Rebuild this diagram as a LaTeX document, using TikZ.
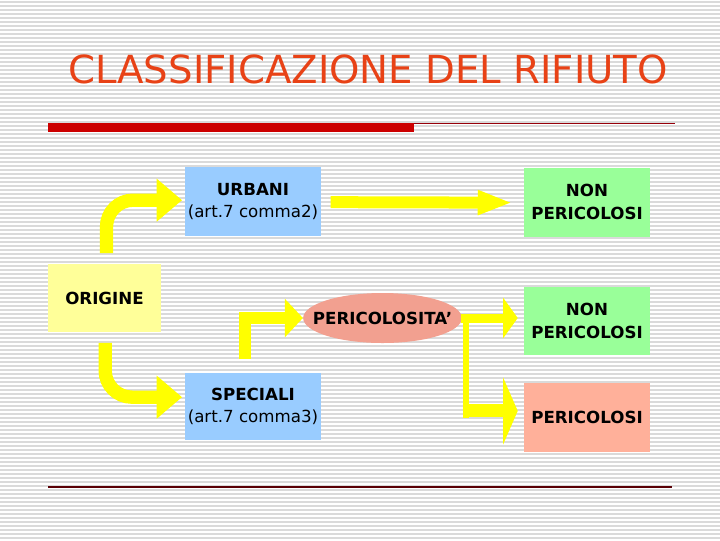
\documentclass[tikz,border=0pt]{standalone}
\usepackage{fontspec}
\setmainfont{DejaVu Sans}
\usetikzlibrary{arrows.meta,shapes.geometric}
\definecolor{titlered}{RGB}{232,66,22}
\definecolor{barred}{RGB}{204,0,0}
\definecolor{linered}{RGB}{150,0,10}
\definecolor{boxblue}{RGB}{153,204,255}
\definecolor{boxyellow}{RGB}{255,255,153}
\definecolor{boxgreen}{RGB}{153,255,153}
\definecolor{boxsalmon}{RGB}{255,176,154}
\definecolor{ellsalmon}{RGB}{242,160,144}
\definecolor{arrowyellow}{RGB}{255,255,0}
\definecolor{stripegray}{RGB}{218,218,218}
\tikzset{
  stripe/.style={draw=stripegray,line width=1.2pt},
  box/.style={rectangle,inner sep=0pt,align=center,font=\fontsize{12.5}{17}\selectfont},
  yarrow/.style={draw=arrowyellow,line width=10pt,
    -{Triangle[length=19pt,width=31pt,fill=arrowyellow]}},
  yline/.style={draw=arrowyellow},
}
\begin{document}
\begin{tikzpicture}[x=0.75pt,y=-0.75pt]
\useasboundingbox (0,0) rectangle (720,540);
\fill[white] (0,0) rectangle (720,540);
\foreach \i in {0,...,134} \draw[stripe] (0,\i*4+2) -- (720,\i*4+2);
% title and rules
\node[text=titlered,font=\fontsize{29}{34}\selectfont] (title) at (368,69) {CLASSIFICAZIONE DEL RIFIUTO};
\fill[barred] (48,123) rectangle (414,132);
\draw[linered,line width=1pt] (414,123.5) -- (675,123.5);
\draw[linered!60!black,line width=1.2pt] (48,487) -- (672,487);
% boxes
\node[box,fill=boxblue,minimum width=102pt,minimum height=51.75pt] (urb) at (253,201.5)
  {\textbf{URBANI}\\(art.7 comma2)};
\node[box,fill=boxyellow,minimum width=84.75pt,minimum height=51pt] (orig) at (104.5,298)
  {\textbf{ORIGINE}};
\node[box,fill=boxblue,minimum width=102pt,minimum height=50.25pt] (spec) at (253,406.5)
  {\textbf{SPECIALI}\\(art.7 comma3)};
\node[ellipse,inner sep=0pt,fill=ellsalmon,minimum width=119pt,minimum height=37.5pt,
  font=\fontsize{12.5}{17}\selectfont] (peri) at (382.5,318)
  {\makebox[0pt]{\textbf{PERICOLOSITA’}}};
\node[box,fill=boxgreen,minimum width=94.5pt,minimum height=51.75pt] (np1) at (587,202)
  {\textbf{NON}\\\textbf{PERICOLOSI}};
\node[box,fill=boxgreen,minimum width=94.5pt,minimum height=51pt] (np2) at (587,321)
  {\textbf{NON}\\\textbf{PERICOLOSI}};
\node[box,fill=boxsalmon,minimum width=94.5pt,minimum height=51.75pt] (per) at (587,417.5)
  {\textbf{PERICOLOSI}};
% arrows
\draw[yarrow,rounded corners=20pt]
  ([xshift=1.5pt,yshift=8pt]orig.north) |- ([xshift=-2pt,yshift=1pt]urb.west);
\draw[yarrow,rounded corners=20pt]
  ([xshift=0.5pt,yshift=-8pt]orig.south) |- ([xshift=-2pt,yshift=7pt]spec.west);
\draw[yarrow,line width=8.5pt,-{Triangle[length=13.5pt,width=28pt,fill=arrowyellow]}]
  ([xshift=-6pt,yshift=10pt]spec.north) |- (peri.west);
\draw[yarrow,line width=9pt,-{Triangle[length=26pt,width=17pt,fill=arrowyellow]}]
  ([xshift=7pt,yshift=-0.5pt]urb.east) -- ([xshift=-8.5pt,yshift=-0.5pt]np1.west);
% split from PERICOLOSITA'
\coordinate (split) at ([xshift=2.6pt]peri.east);
\coordinate (lowsplit) at ([yshift=4.9pt]split |- per.west);
\draw[yline,line width=4.5pt] ([yshift=3pt]split) -- ([yshift=-5pt]lowsplit);
\draw[yarrow,line width=6.75pt,-{Triangle[length=11pt,width=30pt,fill=arrowyellow]}]
  ([xshift=-1pt]peri.east) -- ([xshift=-4.5pt]np2.west |- peri.east);
\draw[yarrow,line width=9.75pt,-{Triangle[length=11pt,width=50pt,fill=arrowyellow]}]
  ([xshift=-2.25pt]lowsplit) -- ([xshift=-4.5pt,yshift=4.9pt]per.west);
\end{tikzpicture}
\end{document}
